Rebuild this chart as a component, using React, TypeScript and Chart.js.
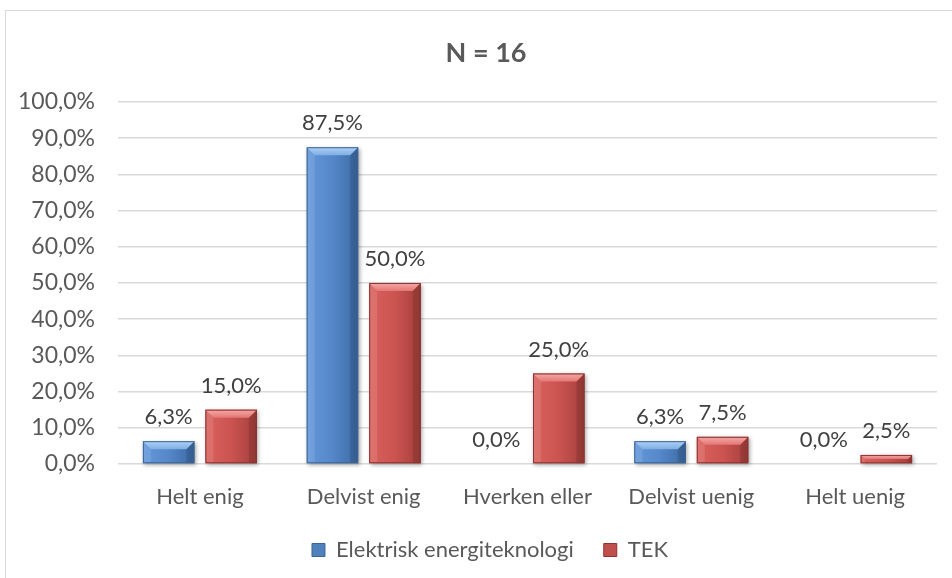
import React, { useEffect, useRef } from 'react';
import { Chart, registerables } from 'chart.js';

Chart.register(...registerables);

const titleText = 'N = 16';
const categories = ['Helt enig', 'Delvist enig', 'Hverken eller', 'Delvist uenig', 'Helt uenig'];
const seriesNames = ['Elektrisk energiteknologi', 'TEK'];
const elektriskValues = [6.3, 87.5, 0.0, 6.3, 0.0];
const tekValues = [15.0, 50.0, 25.0, 7.5, 2.5];
const yMin = 0;
const yMax = 100;
const yStep = 10;

const FONT = 'Lato, "Open Sans", sans-serif';

const palettes = [
  {
    base: '#4f81bd', light: '#6498da', mid: '#5587c9', dark: '#3b69a3',
    bevelTop: '#b0d1f5', bevelBottom: '#7eaee4', edge: '#3d6596',
  },
  {
    base: '#c0504d', light: '#d9625f', mid: '#cb5451', dark: '#a43e3b',
    bevelTop: '#f5aaa8', bevelBottom: '#e37774', edge: '#8e3331',
  },
];

const fmt = (v: number) => v.toFixed(1).replace('.', ',') + '%';

const titlePlugin = {
  id: 'centeredTitle',
  beforeDraw(chart: any) {
    // shift the legend so it is centred on the frame like the reference
    const lg = chart.legend;
    if (lg && !lg._shifted) {
      lg.left += 14;
      lg.right += 14;
      lg._shifted = true;
    }
  },
  afterDraw(chart: any) {
    const ctx = chart.ctx as CanvasRenderingContext2D;
    ctx.save();
    ctx.font = `bold 27px ${FONT}`;
    ctx.fillStyle = '#595959';
    ctx.textAlign = 'center';
    ctx.textBaseline = 'middle';
    ctx.fillText(titleText, 486, 53);
    ctx.restore();
  },
};

const bevelPlugin = {
  id: 'bevelBars',
  afterDatasetsDraw(chart: any) {
    const ctx = chart.ctx as CanvasRenderingContext2D;
    chart.data.datasets.forEach((_ds: any, di: number) => {
      const meta = chart.getDatasetMeta(di);
      const pal = palettes[di];
      meta.data.forEach((el: any) => {
        const { x, y, base, width } = el.getProps(['x', 'y', 'base', 'width'], true);
        const h = base - y;
        if (h < 0.5) return;
        const x0 = x - width / 2;
        const x1 = x + width / 2;
        ctx.save();
        ctx.shadowColor = 'rgba(0,0,0,0.35)';
        ctx.shadowBlur = 4;
        ctx.shadowOffsetX = 1.5;
        ctx.shadowOffsetY = 1.5;
        const g = ctx.createLinearGradient(x0, 0, x1, 0);
        g.addColorStop(0, pal.light);
        g.addColorStop(0.5, pal.mid);
        g.addColorStop(1, pal.dark);
        ctx.fillStyle = g;
        ctx.fillRect(x0, y, width, h);
        ctx.restore();

        const b = Math.min(8, h / 2, width / 2);
        ctx.save();
        ctx.beginPath();
        ctx.moveTo(x0, y);
        ctx.lineTo(x0 + b, y + b);
        ctx.lineTo(x0 + b, base);
        ctx.lineTo(x0, base);
        ctx.closePath();
        ctx.fillStyle = 'rgba(255,255,255,0.10)';
        ctx.fill();
        ctx.beginPath();
        ctx.moveTo(x1, y);
        ctx.lineTo(x1 - b, y + b);
        ctx.lineTo(x1 - b, base);
        ctx.lineTo(x1, base);
        ctx.closePath();
        ctx.fillStyle = 'rgba(0,0,0,0.12)';
        ctx.fill();
        const tg = ctx.createLinearGradient(0, y, 0, y + b);
        tg.addColorStop(0, pal.bevelTop);
        tg.addColorStop(1, pal.bevelBottom);
        ctx.beginPath();
        ctx.moveTo(x0, y);
        ctx.lineTo(x1, y);
        ctx.lineTo(x1 - b, y + b);
        ctx.lineTo(x0 + b, y + b);
        ctx.closePath();
        ctx.fillStyle = tg;
        ctx.fill();
        ctx.strokeStyle = pal.edge;
        ctx.lineWidth = 1;
        ctx.strokeRect(x0 + 0.5, y + 0.5, width - 1, h - 1);
        ctx.restore();
      });
    });
  },
};

const dataLabelPlugin = {
  id: 'valueLabels',
  afterDatasetsDraw(chart: any) {
    const ctx = chart.ctx as CanvasRenderingContext2D;
    ctx.save();
    ctx.font = `22px ${FONT}`;
    ctx.fillStyle = '#404040';
    ctx.textAlign = 'center';
    ctx.textBaseline = 'middle';
    chart.data.datasets.forEach((ds: any, di: number) => {
      const meta = chart.getDatasetMeta(di);
      meta.data.forEach((el: any, i: number) => {
        const { x, y } = el.getProps(['x', 'y'], true);
        ctx.fillText(fmt(ds.data[i]), x, y - 24);
      });
    });
    ctx.restore();
  },
};

export default function App() {
  const ref = useRef<HTMLCanvasElement>(null);

  useEffect(() => {
    document.body.style.margin = '0';
    if (!ref.current) return;
    const chart = new Chart(ref.current, {
      type: 'bar',
      data: {
        labels: categories,
        datasets: [
          {
            label: seriesNames[0],
            data: elektriskValues,
            backgroundColor: palettes[0].base,
            borderColor: palettes[0].edge,
            borderWidth: 1,
            categoryPercentage: 0.763,
            barPercentage: 0.824,
          },
          {
            label: seriesNames[1],
            data: tekValues,
            backgroundColor: palettes[1].base,
            borderColor: palettes[1].edge,
            borderWidth: 1,
            categoryPercentage: 0.763,
            barPercentage: 0.824,
          },
        ],
      },
      options: {
        responsive: false,
        animation: false,
        devicePixelRatio: 1,
        layout: { padding: { left: 15, right: 15, top: 102, bottom: 7 } },
        plugins: {
          title: { display: false },
          legend: {
            position: 'bottom',
            labels: {
              boxWidth: 13,
              boxHeight: 13,
              color: '#595959',
              font: { family: FONT, size: 22 },
              padding: 30,
            },
          },
          tooltip: { enabled: false },
        },
        scales: {
          x: {
            grid: { display: false },
            border: { display: false },
            ticks: { color: '#595959', font: { family: FONT, size: 22 }, padding: 12 },
            afterFit: (s: any) => { s.height = 45; },
          },
          y: {
            min: yMin,
            max: yMax,
            ticks: {
              stepSize: yStep,
              color: '#595959',
              font: { family: FONT, size: 23 },
              padding: 23,
              callback: (v: any) => fmt(Number(v)),
            },
            grid: { color: '#d9d9d9', lineWidth: 1.5, drawTicks: false },
            border: { display: false },
            afterFit: (s: any) => { s.width = 103; },
          },
        },
      },
      plugins: [bevelPlugin, dataLabelPlugin, titlePlugin],
    });
    return () => chart.destroy();
  }, []);

  return (
    <div style={{ position: 'relative', width: 952, height: 578, overflow: 'hidden', background: '#fff' }}>
      <div
        style={{
          position: 'absolute', left: 5, top: 10, width: 1000, height: 1000,
          border: '1px solid #d9d9d9', boxSizing: 'border-box',
        }}
      />
      <canvas ref={ref} width={952} height={578} style={{ position: 'absolute', left: 0, top: 0 }} />
    </div>
  );
}
